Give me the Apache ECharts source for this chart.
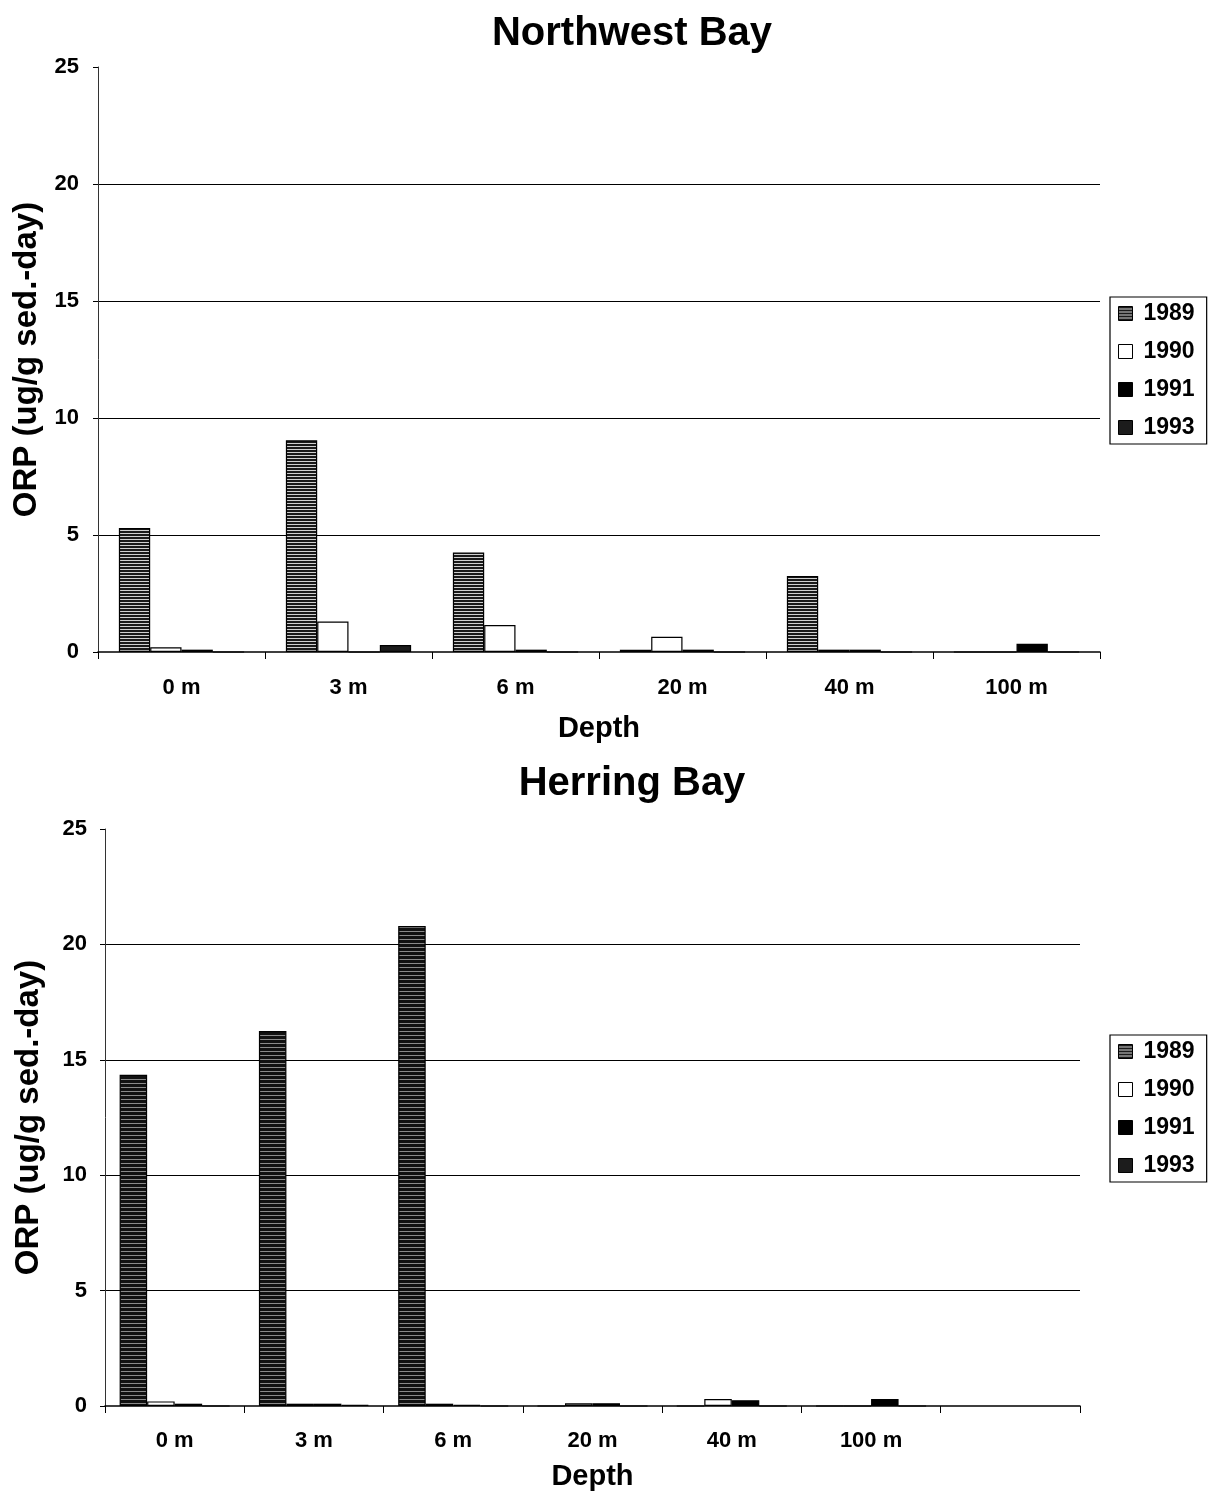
<!DOCTYPE html>
<html>
<head>
<meta charset="utf-8">
<script src="https://cdn.jsdelivr.net/npm/echarts@6/dist/echarts.min.js"></script>
<style>
  html, body { margin: 0; padding: 0; background: #fff; }
  #chart { width: 1222px; height: 1494px; }
</style>
</head>
<body>
<div id="chart"></div>
<script>
// Depth stations and yearly ORP values (ug/g sed.-day)
const depthsNW = ['0 m', '3 m', '6 m', '20 m', '40 m', '100 m'];
const depthsHB = ['0 m', '3 m', '6 m', '20 m', '40 m', '100 m', ''];
const years = ['1989', '1990', '1991', '1993'];

const nw1989 = [5.3, 9.05, 4.25, 0.1, 3.25, 0];
const nw1990 = [0.2, 1.3, 1.15, 0.65, 0.1, 0];
const nw1991 = [0.1, 0, 0.1, 0.1, 0.1, 0.35];
const nw1993 = [0, 0.3, 0, 0, 0, 0];

const hb1989 = [14.35, 16.25, 20.8, 0, 0, 0, null];
const hb1990 = [0.2, 0.1, 0.1, 0.12, 0.3, 0, null];
const hb1991 = [0.1, 0.1, 0.05, 0.12, 0.25, 0.3, null];
const hb1993 = [0, 0.05, 0, 0, 0, 0, null];

// Horizontal hatching used for the 1989 bars
function stripes(dark, light, darkRows, lightRows) {
  const c = document.createElement('canvas');
  c.width = 4; c.height = darkRows + lightRows;
  const g = c.getContext('2d');
  g.fillStyle = dark; g.fillRect(0, 0, 4, c.height);
  g.fillStyle = light; g.fillRect(0, darkRows, 4, lightRows);
  return { image: c, repeat: 'repeat' };
}
const hatchTop = stripes('#1a1a1a', '#d0d0d0', 2, 1);
const hatchBottom = stripes('#111', '#8a8a8a', 3, 1);

const FONT = '"Liberation Sans", Arial, sans-serif';
const fills = { '1990': '#ffffff', '1991': '#000000', '1993': '#1c1c1c' };

function makeSeries(gridIdx, vals, hatch) {
  return years.map((y, i) => ({
    name: y,
    type: 'bar',
    xAxisIndex: gridIdx,
    yAxisIndex: gridIdx,
    data: vals[i],
    barGap: '0%',
    barCategoryGap: gridIdx === 0 ? '25%' : '21%',
    itemStyle: {
      color: y === '1989' ? hatch : fills[y],
      borderColor: '#000',
      borderWidth: 1.2
    },
    silent: true,
    animation: false
  }));
}

function xAxis(gridIdx, cats, labelMargin, nameGap) {
  return {
    type: 'category',
    gridIndex: gridIdx,
    data: cats,
    name: 'Depth',
    nameLocation: 'middle',
    nameGap: nameGap,
    nameTextStyle: { fontFamily: FONT, fontWeight: 'bold', fontSize: 29, color: '#000' },
    axisLine: { lineStyle: { color: '#000', width: 1.5 } },
    axisTick: { show: true, length: 7, lineStyle: { color: '#000' } },
    axisLabel: { fontFamily: FONT, fontWeight: 'bold', fontSize: 22, color: '#000', margin: labelMargin },
    splitLine: { show: false }
  };
}

function yAxis(gridIdx, labelMargin, nameGap) {
  return {
    type: 'value',
    gridIndex: gridIdx,
    min: 0, max: 25, interval: 5,
    name: 'ORP (ug/g sed.-day)',
    nameLocation: 'middle',
    nameGap: nameGap,
    nameTextStyle: { fontFamily: FONT, fontWeight: 'bold', fontSize: 33, color: '#000' },
    axisLine: { show: true, lineStyle: { color: '#333', width: 1 } },
    axisTick: { show: true, length: 5, lineStyle: { color: '#000' } },
    axisLabel: { fontFamily: FONT, fontWeight: 'bold', fontSize: 22, color: '#000', margin: labelMargin },
    splitLine: {
      show: true,
      showMinLine: false,
      showMaxLine: false,
      lineStyle: { color: '#000', width: 1.2 }
    }
  };
}

function legend(top) {
  return {
    orient: 'vertical',
    left: 1110,
    top: top,
    data: years,
    icon: 'rect',
    itemWidth: 14,
    itemHeight: 14,
    itemGap: 15,
    padding: [5, 12, 5, 8],
    borderColor: '#000',
    borderWidth: 1.2,
    backgroundColor: '#fff',
    selectedMode: false,
    itemStyle: { borderColor: '#000', borderWidth: 1 },
    textStyle: { fontFamily: FONT, fontWeight: 'bold', fontSize: 23, color: '#000', padding: [0, 0, 0, 6] }
  };
}

const chart = echarts.init(document.getElementById('chart'), null, { renderer: 'canvas' });
chart.setOption({
  backgroundColor: '#fff',
  animation: false,
  title: [
    { text: 'Northwest Bay', left: 627, textAlign: 'center', top: 9,
      textStyle: { fontFamily: FONT, fontWeight: 'bold', fontSize: 40, color: '#000' } },
    { text: 'Herring Bay', left: 627, textAlign: 'center', top: 759,
      textStyle: { fontFamily: FONT, fontWeight: 'bold', fontSize: 40, color: '#000' } }
  ],
  legend: [legend(297), legend(1035)],
  grid: [
    { left: 98, top: 67, width: 1002, height: 585, containLabel: false },
    { left: 105, top: 829, width: 975, height: 577, containLabel: false }
  ],
  xAxis: [xAxis(0, depthsNW, 25, 62), xAxis(1, depthsHB, 24, 56)],
  yAxis: [yAxis(0, 19, 52), yAxis(1, 18, 60)],
  series: [
    ...makeSeries(0, [nw1989, nw1990, nw1991, nw1993], hatchTop),
    ...makeSeries(1, [hb1989, hb1990, hb1991, hb1993], hatchBottom)
  ]
});
</script>
</body>
</html>
